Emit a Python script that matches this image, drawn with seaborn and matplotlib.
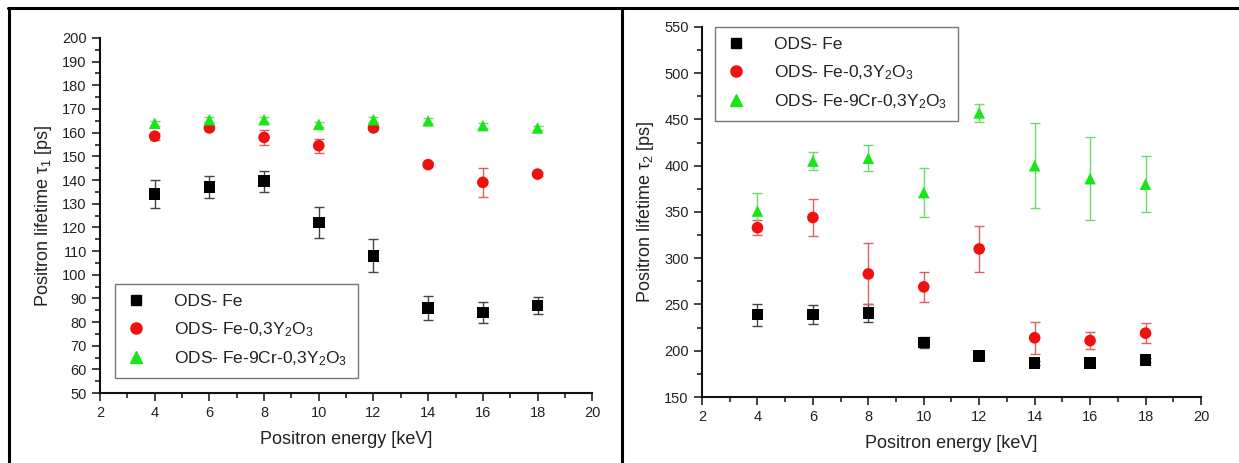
import numpy as np
import pandas as pd
import matplotlib
matplotlib.use("Agg")
import matplotlib.pyplot as plt
from matplotlib.lines import Line2D
from matplotlib.ticker import MultipleLocator
import seaborn as sns

# ---------------- data ----------------
energy = [4, 6, 8, 10, 12, 14, 16, 18]
series = ["ODS- Fe", "ODS- Fe-0,3Y$_2$O$_3$", "ODS- Fe-9Cr-0,3Y$_2$O$_3$"]

tau1_fe = [134, 137, 139.5, 122, 108, 86, 84, 87]
tau1_fe_err = [6, 4.5, 4.5, 6.5, 7, 5, 4.5, 3.5]
tau1_y = [158.5, 162, 158, 154.5, 162, 146.5, 139, 142.5]
tau1_y_err = [1.5, 1, 3, 3, 1, 1, 6, 1]
tau1_cr = [164, 165.5, 165.5, 163.5, 165.5, 165, 163, 162]
tau1_cr_err = [1, 1, 1, 1, 1, 1, 1, 1]

tau2_fe = [239, 239, 241, 209, 194, 187, 187, 190]
tau2_fe_err = [12, 10.5, 10, 5.5, 2, 2, 2, 2]
tau2_y = [333, 344, 283, 269, 310, 214, 211, 219]
tau2_y_err = [8, 19.5, 33, 16, 25, 17, 9.5, 10.5]
tau2_cr = [351, 405, 408, 371, 457, 400, 386, 380]
tau2_cr_err = [20, 10, 14, 26, 10, 46, 44.5, 30.5]

colors = ["#000000", "#f01010", "#19e619"]
err_colors = ["#444444", "#e06060", "#70d870"]
markers = ["s", "o", "^"]

def make_df(vals, errs):
    rows = []
    for name, v, e in zip(series, vals, errs):
        for x, yy, ee in zip(energy, v, e):
            rows.append({"energy": x, "tau": yy, "err": ee, "sample": name})
    return pd.DataFrame(rows)

df1 = make_df([tau1_fe, tau1_y, tau1_cr], [tau1_fe_err, tau1_y_err, tau1_cr_err])
df2 = make_df([tau2_fe, tau2_y, tau2_cr], [tau2_fe_err, tau2_y_err, tau2_cr_err])

sns.set_theme(style="ticks")
plt.rcParams["font.family"] = ["Liberation Sans", "DejaVu Sans"]
plt.rcParams["mathtext.fontset"] = "custom"
plt.rcParams["mathtext.rm"] = "Liberation Sans"
plt.rcParams["mathtext.it"] = "Liberation Sans:italic"
plt.rcParams["mathtext.default"] = "rm"

fig = plt.figure(figsize=(12.39, 4.63), dpi=100)
fig.patch.set_facecolor("white")
ax1 = fig.add_axes([0.0807, 0.151, 0.3973, 0.767])
ax2 = fig.add_axes([0.5666, 0.1425, 0.4027, 0.7995])

def draw(ax, df, ylim, ymaj, ymin, ylabel, legend_loc, anchor):
    for i, name in enumerate(series):
        sub = df[df["sample"] == name]
        ax.errorbar(sub["energy"], sub["tau"], yerr=sub["err"], fmt="none",
                    ecolor=err_colors[i], elinewidth=1.0, capsize=3.8,
                    capthick=1.0, zorder=2)
    sns.scatterplot(data=df, x="energy", y="tau", hue="sample", style="sample",
                    hue_order=series, style_order=series,
                    palette=colors, markers=markers, s=70, linewidth=0,
                    ax=ax, zorder=3, legend=False)
    ax.set_xlim(2, 20)
    ax.set_ylim(*ylim)
    ax.xaxis.set_major_locator(MultipleLocator(2))
    ax.xaxis.set_minor_locator(MultipleLocator(1))
    ax.yaxis.set_major_locator(MultipleLocator(ymaj))
    ax.yaxis.set_minor_locator(MultipleLocator(ymin))
    ax.tick_params(which="major", length=6, width=1.2, labelsize=10.5,
                   colors="#222222", direction="out")
    ax.tick_params(which="minor", length=3.5, width=1.2, direction="out",
                   colors="#222222")
    for s in ["top", "right"]:
        ax.spines[s].set_visible(False)
    for s in ["left", "bottom"]:
        ax.spines[s].set_linewidth(1.5)
        ax.spines[s].set_color("#111111")
    ax.set_xlabel("Positron energy [keV]", fontsize=13, color="#222222", labelpad=8)
    ax.set_ylabel(ylabel, fontsize=13, color="#222222", labelpad=6)
    handles = [Line2D([], [], linestyle="none", marker=m, color=c,
                      markersize=8 if m != "s" else 7)
               for m, c in zip(markers, colors)]
    leg = ax.legend(handles, series, loc=legend_loc, bbox_to_anchor=anchor,
                    fontsize=12.5, frameon=True, fancybox=False,
                    edgecolor="#777777", framealpha=1, handlelength=1.2,
                    handletextpad=1.6, borderpad=0.6, labelspacing=0.6,
                    borderaxespad=0)
    leg.get_frame().set_linewidth(1.0)
    for t in leg.get_texts():
        t.set_color("#222222")

draw(ax1, df1, (50, 200), 10, 5, "Positron lifetime τ$_1$ [ps]",
     "lower left", (15 / 492, 15 / 355))
draw(ax2, df2, (150, 550), 50, 25, "Positron lifetime τ$_2$ [ps]",
     "upper left", (13 / 499, 1.0))

# surrounding table frame lines
fig.add_artist(Line2D([8 / 1239, 1], [1 - 8 / 463, 1 - 8 / 463],
                      transform=fig.transFigure, color="black", linewidth=2.2))
fig.add_artist(Line2D([8.5 / 1239, 8.5 / 1239], [0, 1 - 8 / 463],
                      transform=fig.transFigure, color="black", linewidth=2.2))
fig.add_artist(Line2D([622 / 1239, 622 / 1239], [0, 1 - 8 / 463],
                      transform=fig.transFigure, color="black", linewidth=2.2))

fig.savefig("out.png", dpi=100, facecolor="white")
